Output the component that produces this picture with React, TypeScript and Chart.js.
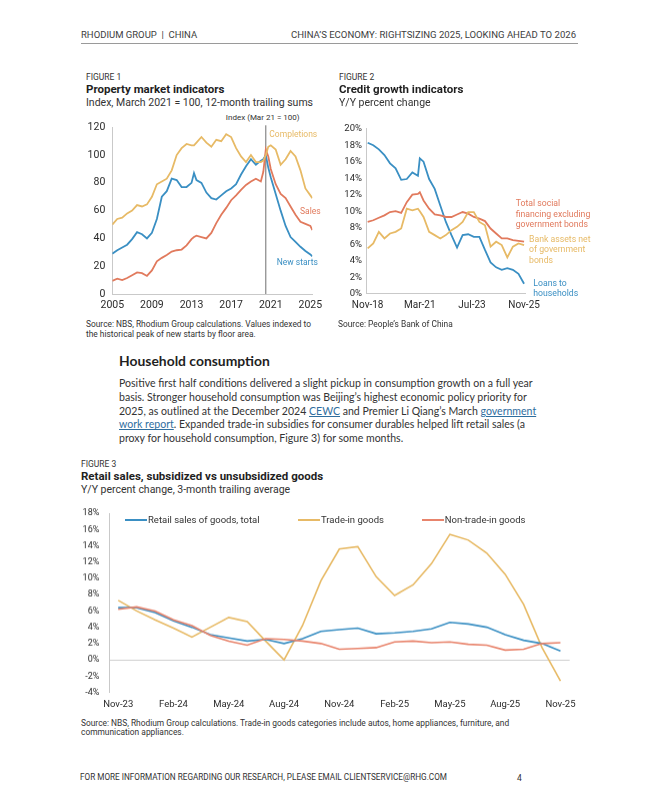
import React, { useEffect, useRef } from "react";
import { Chart, registerables } from "chart.js";

Chart.register(...registerables);

const BLUE = "#3a8fc3";
const YELLOW = "#e7ba66";
const RED = "#e17a5d";
const RED3 = "#e8846c";
const SANS = "Roboto, 'Noto Sans', sans-serif";
const BODY = "Lato, 'Open Sans', sans-serif";

// ---------- Figure 1: property market indicators ----------
const fig1Years = [2005, 2005.5, 2006, 2006.5, 2007, 2007.5, 2008, 2008.5, 2009, 2009.5, 2010, 2010.5, 2011, 2011.5, 2012, 2012.5, 2013, 2013.25, 2013.5, 2014, 2014.5, 2015, 2015.5, 2016, 2016.5, 2017, 2017.5, 2018, 2018.5, 2019, 2019.5, 2020, 2020.25, 2020.5, 2020.75, 2021, 2021.5, 2022, 2022.5, 2023, 2023.5, 2024, 2024.5, 2025, 2025.2];
const fig1Completions = [50, 54, 55, 58, 60, 64, 63, 64.5, 70, 79, 81, 83, 89, 100, 105, 108, 107, 107, 109, 113, 109, 106, 111, 110, 115, 113, 105, 99, 95, 100, 95, 95, 96, 100, 106, 107, 104, 93, 97, 103, 99, 89, 76, 71, 69];
const fig1NewStarts = [29, 31.5, 33.5, 35.5, 39.5, 44.5, 43, 40, 44, 54, 70, 74, 83, 82, 77, 77, 80, 87, 82, 80, 73, 69, 68, 71, 74, 76, 79, 86, 92, 97, 93, 96, 97, 100, 91, 84, 72, 60, 49, 41, 37.5, 34, 31, 28.5, 27];
const fig1Sales = [9.5, 11, 10, 11.5, 13.5, 15.5, 15, 13, 17, 23.5, 26, 28, 30.5, 31.5, 32, 35, 39.5, 41, 42, 41, 40, 44, 51, 57, 62, 67.5, 71, 75, 78.5, 81, 83, 81, 88, 104, 99, 90, 79, 72, 69, 63, 57, 52, 50.5, 49, 46];
const fig1TickYears = [2005, 2009, 2013, 2017, 2021, 2025];
const fig1MarkerYear = 2020.5;

// ---------- Figure 2: credit growth indicators ----------
const fig2MonthIdx = [0, 3, 6, 9, 12, 15, 18, 21, 24, 27, 28, 30, 33, 36, 39, 42, 45, 48, 51, 54, 57, 60, 63, 66, 69, 72, 75, 78, 81, 84];
const fig2Loans = [18.3, 18.0, 17.5, 16.8, 15.8, 15.2, 13.8, 13.9, 14.7, 14.3, 16.4, 16.0, 13.9, 12.7, 10.7, 8.7, 7.1, 5.6, 7.1, 7.2, 6.9, 6.9, 5.3, 3.8, 3.2, 2.9, 3.1, 2.9, 2.4, 1.2];
const fig2Tsf = [8.7, 8.9, 9.2, 9.5, 9.9, 10.0, 9.8, 11.1, 12.0, 12.1, 12.3, 11.3, 10.3, 9.6, 9.5, 9.3, 9.3, 9.6, 9.9, 9.7, 9.3, 9.1, 8.8, 7.9, 7.3, 6.7, 6.7, 6.5, 6.4, 6.3];
const fig2Bank = [5.5, 6.1, 7.5, 6.7, 7.3, 7.5, 7.9, 10.3, 10.1, 10.3, 10.0, 9.3, 7.5, 7.1, 6.7, 7.1, 7.7, 8.1, 8.7, 9.9, 9.9, 8.7, 8.3, 5.7, 6.3, 5.9, 4.4, 5.7, 6.1, 5.9];
const fig2TickIdx = [0, 28, 56, 84];
const fig2TickLabels = ["Nov-18", "Mar-21", "Jul-23", "Nov-25"];

// ---------- Figure 3: retail sales ----------
const fig3Months = ["Nov-23", "Dec-23", "Jan-24", "Feb-24", "Mar-24", "Apr-24", "May-24", "Jun-24", "Jul-24", "Aug-24", "Sep-24", "Oct-24", "Nov-24", "Dec-24", "Jan-25", "Feb-25", "Mar-25", "Apr-25", "May-25", "Jun-25", "Jul-25", "Aug-25", "Sep-25", "Oct-25", "Nov-25"];
const fig3Total = [6.4, 6.4, 5.8, 4.8, 4.0, 3.1, 2.7, 2.3, 2.5, 2.0, 2.6, 3.5, 3.7, 3.9, 3.2, 3.3, 3.5, 3.8, 4.6, 4.4, 4.0, 3.1, 2.4, 2.0, 1.1];
const fig3TradeIn = [7.3, 6.0, 4.9, 3.9, 2.8, 4.0, 5.2, 4.7, 2.3, 0.0, 4.2, 9.7, 13.6, 13.9, 10.2, 7.9, 9.2, 11.8, 15.4, 14.7, 13.1, 10.5, 6.8, 1.5, -2.6];
const fig3NonTradeIn = [6.2, 6.5, 6.0, 4.9, 4.2, 3.0, 2.3, 1.8, 2.6, 2.5, 2.3, 2.0, 1.3, 1.4, 1.5, 2.2, 2.3, 2.1, 2.2, 1.9, 1.8, 1.2, 1.3, 2.0, 2.1];

const tickFont = (size: number) => ({ family: SANS, size });

function lineDs(label: string, data: any[], color: string, width = 1.8) {
  return {
    label,
    data,
    borderColor: color,
    backgroundColor: color,
    borderWidth: width,
    pointRadius: 0,
    tension: 0,
    fill: false,
  };
}

const markerLine = {
  id: "markerLine",
  beforeDatasetsDraw(chart: any) {
    const { ctx, chartArea, scales } = chart;
    const x = scales.x.getPixelForValue(fig1MarkerYear);
    ctx.save();
    ctx.strokeStyle = "#6f6f6f";
    ctx.lineWidth = 1;
    ctx.beginPath();
    ctx.moveTo(x, chartArea.top - 2);
    ctx.lineTo(x, chartArea.bottom);
    ctx.stroke();
    ctx.restore();
  },
};

const noGrid = { display: false, drawTicks: false };

function fig1Config(): any {
  return {
    type: "line",
    data: {
      datasets: [
        lineDs("Completions", fig1Years.map((x, i) => ({ x, y: fig1Completions[i] })), YELLOW),
        lineDs("Sales", fig1Years.map((x, i) => ({ x, y: fig1Sales[i] })), RED),
        lineDs("New starts", fig1Years.map((x, i) => ({ x, y: fig1NewStarts[i] })), BLUE),
      ],
    },
    options: {
      animation: false,
      responsive: true,
      maintainAspectRatio: false,
      layout: { padding: { top: 0, right: 13.7, left: 0, bottom: 0 } },
      plugins: { legend: { display: false }, tooltip: { enabled: false } },
      scales: {
        x: {
          type: "linear",
          min: 2005,
          max: 2025.2,
          grid: noGrid,
          border: { display: true, color: "#c9c9c9" },
          afterBuildTicks: (s: any) => {
            s.ticks = fig1TickYears.map((v) => ({ value: v }));
          },
          afterFit: (s: any) => {
            s.height = 21;
          },
          ticks: { callback: (v: any) => String(v), color: "#2b2b2b", font: tickFont(10.5), padding: 4.7, maxRotation: 0, autoSkip: false },
        },
        y: {
          min: 0,
          max: 120,
          grid: noGrid,
          border: { display: true, color: "#c9c9c9" },
          afterFit: (s: any) => {
            s.width = 32.3;
          },
          ticks: { stepSize: 20, color: "#2b2b2b", font: tickFont(10.5), padding: 7 },
        },
      },
    },
    plugins: [markerLine],
  };
}

function fig2Config(): any {
  return {
    type: "line",
    data: {
      datasets: [
        lineDs("Bank assets net of government bonds", fig2MonthIdx.map((x, i) => ({ x, y: fig2Bank[i] })), YELLOW),
        lineDs("Total social financing excluding government bonds", fig2MonthIdx.map((x, i) => ({ x, y: fig2Tsf[i] })), RED),
        lineDs("Loans to households", fig2MonthIdx.map((x, i) => ({ x, y: fig2Loans[i] })), BLUE),
      ],
    },
    options: {
      animation: false,
      responsive: true,
      maintainAspectRatio: false,
      layout: { padding: { top: 0, right: 70, left: 0, bottom: 0 } },
      plugins: { legend: { display: false }, tooltip: { enabled: false } },
      scales: {
        x: {
          type: "linear",
          min: -0.9,
          max: 84.5,
          grid: noGrid,
          border: { display: true, color: "#c9c9c9" },
          afterBuildTicks: (s: any) => {
            s.ticks = fig2TickIdx.map((v) => ({ value: v }));
          },
          afterFit: (s: any) => {
            s.height = 21.7;
          },
          ticks: {
            callback: (v: any) => fig2TickLabels[fig2TickIdx.indexOf(v)] ?? "",
            color: "#2b2b2b",
            font: tickFont(10),
            padding: 5.7,
            maxRotation: 0,
            autoSkip: false,
          },
        },
        y: {
          min: 0,
          max: 20,
          grid: noGrid,
          border: { display: true, color: "#c9c9c9" },
          afterFit: (s: any) => {
            s.width = 36;
          },
          ticks: { stepSize: 2, color: "#2b2b2b", font: tickFont(9.5), padding: 4, callback: (v: any) => v + "%" },
        },
      },
    },
  };
}

function fig3Config(): any {
  return {
    type: "line",
    data: {
      labels: fig3Months,
      datasets: [
        lineDs("Non-trade-in goods", fig3NonTradeIn, RED3, 1.6),
        lineDs("Retail sales of goods, total", fig3Total, BLUE, 1.6),
        lineDs("Trade-in goods", fig3TradeIn, YELLOW, 1.6),
      ],
    },
    options: {
      animation: false,
      responsive: true,
      maintainAspectRatio: false,
      layout: { padding: { top: 0, right: 0, left: 0, bottom: 0 } },
      plugins: { legend: { display: false }, tooltip: { enabled: false } },
      scales: {
        x: {
          type: "category",
          offset: true,
          grid: noGrid,
          border: { display: false },
          afterFit: (s: any) => {
            s.height = 23.3;
          },
          ticks: {
            callback: (_v: any, i: number) => (i % 3 === 0 ? fig3Months[i] : ""),
            color: "#2b2b2b",
            font: tickFont(9.5),
            padding: 6.5,
            maxRotation: 0,
            autoSkip: false,
          },
        },
        y: {
          min: -4,
          max: 18,
          grid: {
            display: true,
            drawTicks: false,
            color: (c: any) => (c.tick && c.tick.value === 0 ? "#cfcfcf" : "rgba(0,0,0,0)"),
            lineWidth: 1,
          },
          border: { display: true, color: "#c9c9c9" },
          afterFit: (s: any) => {
            s.width = 39;
          },
          ticks: { stepSize: 2, color: "#2b2b2b", font: tickFont(9), padding: 9.7, callback: (v: any) => v + "%" },
        },
      },
    },
  };
}

function ChartBox({ left, top, width, height, make }: any) {
  const ref = useRef<HTMLCanvasElement>(null);
  useEffect(() => {
    const chart = new Chart(ref.current as HTMLCanvasElement, make());
    return () => chart.destroy();
  }, []);
  return (
    <div style={{ position: "absolute", left, top, width, height }}>
      <canvas ref={ref} />
    </div>
  );
}

function T({ x, y, fs, w = 400, c = "#333", ff = SANS, align = "left", children }: any) {
  const style: React.CSSProperties = {
    position: "absolute",
    top: y - fs * 0.6,
    fontSize: fs,
    lineHeight: `${fs * 1.2}px`,
    fontWeight: w,
    color: c,
    fontFamily: ff,
    whiteSpace: "nowrap",
  };
  if (align === "left") style.left = x;
  else if (align === "right") style.right = 657 - x;
  else {
    style.left = x;
    style.transform = "translateX(-50%)";
  }
  return <div style={style}>{children}</div>;
}

const linkStyle: React.CSSProperties = { color: "#2f6e9e", textDecoration: "underline" };

function LegendItem({ x, color, label }: any) {
  return (
    <>
      <div style={{ position: "absolute", left: x, top: 519.3, width: 22, height: 1.6, background: color }} />
      <T x={x + 23} y={520} fs={9.5} c="#333">
        {label}
      </T>
    </>
  );
}

export default function App() {
  const paraLines: any[] = [
    "Positive first half conditions delivered a slight pickup in consumption growth on a full year",
    "basis. Stronger household consumption was Beijing’s highest economic policy priority for",
    <>
      2025, as outlined at the December 2024 <span style={linkStyle}>CEWC</span> and Premier Li Qiang’s March{" "}
      <span style={linkStyle}>government</span>
    </>,
    <>
      <span style={linkStyle}>work report</span>. Expanded trade-in subsidies for consumer durables helped lift retail sales (a
    </>,
    "proxy for household consumption, Figure 3) for some months.",
  ];
  const paraY = [383.3, 397.3, 411, 424.7, 438.7];

  return (
    <div style={{ position: "absolute", left: 0, top: 0, width: 657, height: 800, background: "#ffffff", overflow: "hidden" }}>
      {/* page header */}
      <T x={81} y={35} fs={9.5} c="#3d3d3d">RHODIUM GROUP &nbsp;|&nbsp; CHINA</T>
      <T x={576} y={35} fs={9.55} c="#3d3d3d" align="right">CHINA’S ECONOMY: RIGHTSIZING 2025, LOOKING AHEAD TO 2026</T>
      <div style={{ position: "absolute", left: 81, top: 43, width: 497, height: 1, background: "#9a9a9a" }} />

      {/* Figure 1 */}
      <T x={86} y={77} fs={8.5} c="#333">FIGURE 1</T>
      <T x={86} y={90} fs={11.5} w={700} c="#1f1f1f">Property market indicators</T>
      <T x={86} y={103} fs={10.5} c="#333">Index, March 2021 = 100, 12-month trailing sums</T>
      <T x={262.7} y={118} fs={8} c="#333" align="center">Index (Mar 21 = 100)</T>
      <ChartBox left={80} top={114} width={247} height={201} make={fig1Config} />
      <T x={269.3} y={134} fs={8.5} c={YELLOW}>Completions</T>
      <T x={300} y={210.7} fs={8.5} c={RED}>Sales</T>
      <T x={276.7} y={261.7} fs={8.5} c={BLUE}>New starts</T>
      <T x={86} y={324} fs={8.4} c="#333">Source: NBS, Rhodium Group calculations. Values indexed to</T>
      <T x={86} y={334} fs={8.4} c="#333">the historical peak of new starts by floor area.</T>

      {/* Figure 2 */}
      <T x={339} y={77} fs={8.5} c="#333">FIGURE 2</T>
      <T x={339} y={90} fs={11.5} w={700} c="#1f1f1f">Credit growth indicators</T>
      <T x={339} y={103} fs={10.5} c="#333">Y/Y percent change</T>
      <ChartBox left={330} top={118.6} width={265} height={196.4} make={fig2Config} />
      <T x={515.7} y={203.3} fs={8.7} c={RED}>Total social</T>
      <T x={515.7} y={214} fs={8.7} c={RED}>financing excluding</T>
      <T x={515.7} y={224.3} fs={8.7} c={RED}>government bonds</T>
      <T x={529} y={239} fs={8.7} c={YELLOW}>Bank assets net</T>
      <T x={529} y={249.3} fs={8.7} c={YELLOW}>of government</T>
      <T x={529} y={260} fs={8.7} c={YELLOW}>bonds</T>
      <T x={533.3} y={283.3} fs={8.7} c={BLUE}>Loans to</T>
      <T x={533.3} y={293} fs={8.7} c={BLUE}>households</T>
      <T x={338} y={324} fs={8.4} c="#333">Source: People’s Bank of China</T>

      {/* Household consumption text */}
      <T x={119} y={361.7} fs={13.9} w={700} c="#1f1f1f" ff={BODY}>Household consumption</T>
      {paraLines.map((ln, i) => (
        <T key={i} x={119} y={paraY[i]} fs={10.55} c="#333" ff={BODY}>
          {ln}
        </T>
      ))}

      {/* Figure 3 */}
      <T x={81} y={464} fs={8.5} c="#333">FIGURE 3</T>
      <T x={81} y={476.7} fs={11.5} w={700} c="#1f1f1f">Retail sales, subsidized vs unsubsidized goods</T>
      <T x={81} y={490} fs={10.5} c="#333">Y/Y percent change, 3-month trailing average</T>
      <ChartBox left={70} top={498.2} width={512} height={216.8} make={fig3Config} />
      <LegendItem x={125} color={BLUE} label="Retail sales of goods, total" />
      <LegendItem x={298} color={YELLOW} label="Trade-in goods" />
      <LegendItem x={421.7} color={RED3} label="Non-trade-in goods" />
      <T x={81} y={722.7} fs={8.4} c="#333">
        Source: NBS, Rhodium Group calculations. Trade-in goods categories include autos, home appliances, furniture, and
      </T>
      <T x={81} y={732.3} fs={8.4} c="#333">communication appliances.</T>

      {/* footer */}
      <T x={80} y={778.3} fs={8.2} c="#333">FOR MORE INFORMATION REGARDING OUR RESEARCH, PLEASE EMAIL CLIENTSERVICE@RHG.COM</T>
      <T x={517} y={778.3} fs={8.5} c="#333">4</T>
    </div>
  );
}
